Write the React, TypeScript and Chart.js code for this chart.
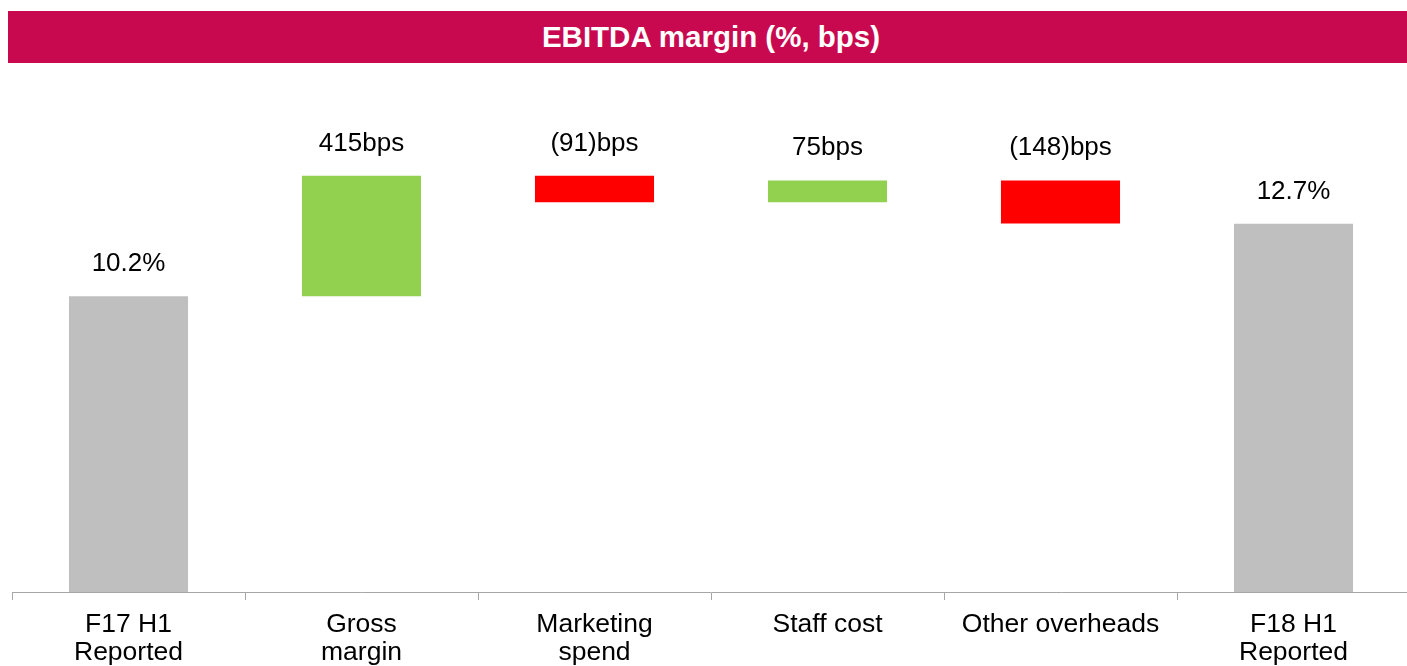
import React, { useEffect, useRef } from "react";
import { Chart, registerables } from "chart.js";

Chart.register(...registerables);

const titleText = "EBITDA margin (%, bps)";
const categories: string[][] = [
  ["F17 H1", "Reported"],
  ["Gross", "margin"],
  ["Marketing", "spend"],
  ["Staff cost"],
  ["Other overheads"],
  ["F18 H1", "Reported"],
];
const startMargin = 10.2;
const changesBps = [415, -91, 75, -148];
const endMargin = 12.7;
const yMin = 0;
const yMax = 18;

const GREY = "#BFBFBF";
const GREEN = "#92D050";
const RED = "#FF0000";
const TITLE_BG = "#C8094F";
const FONT = "'Liberation Sans', Arial, sans-serif";

function buildBars() {
  const ranges: [number, number][] = [[0, startMargin]];
  const colors: string[] = [GREY];
  const labels: string[] = [startMargin.toFixed(1) + "%"];
  let level = startMargin;
  for (const c of changesBps) {
    const next = level + c / 100;
    ranges.push([level, next]);
    colors.push(c >= 0 ? GREEN : RED);
    labels.push(c >= 0 ? `${c}bps` : `(${Math.abs(c)})bps`);
    level = next;
  }
  ranges.push([0, endMargin]);
  colors.push(GREY);
  labels.push(endMargin.toFixed(1) + "%");
  return { ranges, colors, labels };
}

export default function App() {
  const ref = useRef<HTMLCanvasElement | null>(null);

  useEffect(() => {
    const canvas = ref.current;
    if (!canvas) return;
    const { ranges, colors, labels } = buildBars();

    const labelPlugin = {
      id: "barLabels",
      afterDatasetsDraw(chart: any) {
        const ctx = chart.ctx;
        const meta = chart.getDatasetMeta(0);
        ctx.save();
        ctx.font = `26px ${FONT}`;
        ctx.fillStyle = "#000000";
        ctx.textAlign = "center";
        ctx.textBaseline = "alphabetic";
        meta.data.forEach((el: any, i: number) => {
          const top = Math.min(el.y, el.base);
          ctx.fillText(labels[i], el.x, top - 25);
        });
        ctx.restore();
      },
    };

    const chart = new Chart(canvas, {
      type: "bar",
      data: {
        labels: categories,
        datasets: [
          {
            data: ranges as any,
            backgroundColor: colors,
            borderWidth: 0,
            barPercentage: 0.511,
            categoryPercentage: 1,
          },
        ],
      },
      options: {
        responsive: false,
        animation: false,
        layout: { padding: { left: 12, right: 10, top: 70, bottom: 0 } },
        plugins: {
          legend: { display: false },
          tooltip: { enabled: false },
          title: { display: false },
        },
        scales: {
          x: {
            offset: true,
            grid: {
              display: true,
              offset: true,
              drawOnChartArea: false,
              drawTicks: true,
              tickLength: 8,
              color: "#A6A6A6",
            },
            border: { display: true, color: "#A6A6A6", width: 1 },
            ticks: {
              color: "#000000",
              padding: 11,
              maxRotation: 0,
              autoSkip: false,
              font: { family: FONT, size: 26.5, lineHeight: "28px" as any },
            },
            afterFit: (scale: any) => {
              scale.height = 74;
            },
          },
          y: {
            display: false,
            min: yMin,
            max: yMax,
          },
        },
      },
      plugins: [labelPlugin],
    });
    return () => chart.destroy();
  }, []);

  return (
    <div
      style={{
        position: "fixed",
        left: 0,
        top: 0,
        width: 1407,
        height: 666,
        overflow: "hidden",
        background: "#FFFFFF",
      }}
    >
      <canvas
        ref={ref}
        width={1420}
        height={666}
        style={{ position: "absolute", left: 0, top: 0, width: 1420, height: 666 }}
      />
      <div
        style={{
          position: "absolute",
          left: 8,
          top: 11,
          width: 1406,
          height: 52,
          background: TITLE_BG,
          color: "#FFFFFF",
          fontFamily: FONT,
          fontWeight: "bold",
          fontSize: 29.5,
          display: "flex",
          alignItems: "center",
          justifyContent: "center",
        }}
      >
        {titleText}
      </div>
    </div>
  );
}
